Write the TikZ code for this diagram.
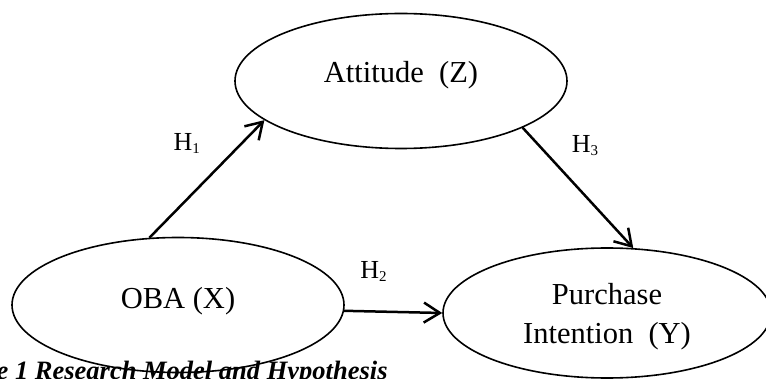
\documentclass[tikz,border=0pt]{standalone}
\usepackage{fontspec}
\setmainfont{Liberation Serif}
\usetikzlibrary{arrows.meta}
\usetikzlibrary{shapes.geometric}

\newcommand{\hsub}[1]{H\raisebox{-3pt}{\fontsize{15}{15}\selectfont #1}}

\begin{document}
\begin{tikzpicture}[x=1pt, y=-1pt,
        main/.style = {draw, ellipse, line width=1.6pt, inner sep=0pt,
            minimum width=332pt, minimum height=135pt},
        lab/.style = {font=\fontsize{30.5}{39}\selectfont, align=center},
        hyp/.style = {font=\fontsize{26}{30}\selectfont},
        arr/.style = {-{Straight Barb[length=16pt,width=20pt]}, line width=2.5pt}]
            \useasboundingbox (0,0) rectangle (766,379);

            \node[anchor=base west, inner sep=0pt, font=\fontsize{26.5}{30}\selectfont\bfseries\itshape] (cap) at (-3.5,379.5) {e 1 Research Model and Hypothesis};

            \node[main, label={[lab, yshift=6pt]center:Attitude\ \ (Z)}] (Z) at (401,81) {};
            \node[main, label={[lab, yshift=4pt]center:OBA (X)}] (X) at (178,305) {};
            \node[main, minimum width=328pt, minimum height=130pt,
                label={[lab, yshift=-4pt]center:Purchase\\Intention\ \ (Y)}] (Y) at (607,313) {};

            \path[arr] (X.113) edge node[hyp, pos=0.8, left=37pt] {\hsub{1}} (Z.196);
            \path[arr] (Z.-21) edge node[hyp, pos=0.15, right=28pt] {\hsub{3}} (Y.68);
            \path[arr] (X.-2) edge node[hyp, pos=0.3, above=25pt] {\hsub{2}} (Y.west);
        \end{tikzpicture}
\end{document}
